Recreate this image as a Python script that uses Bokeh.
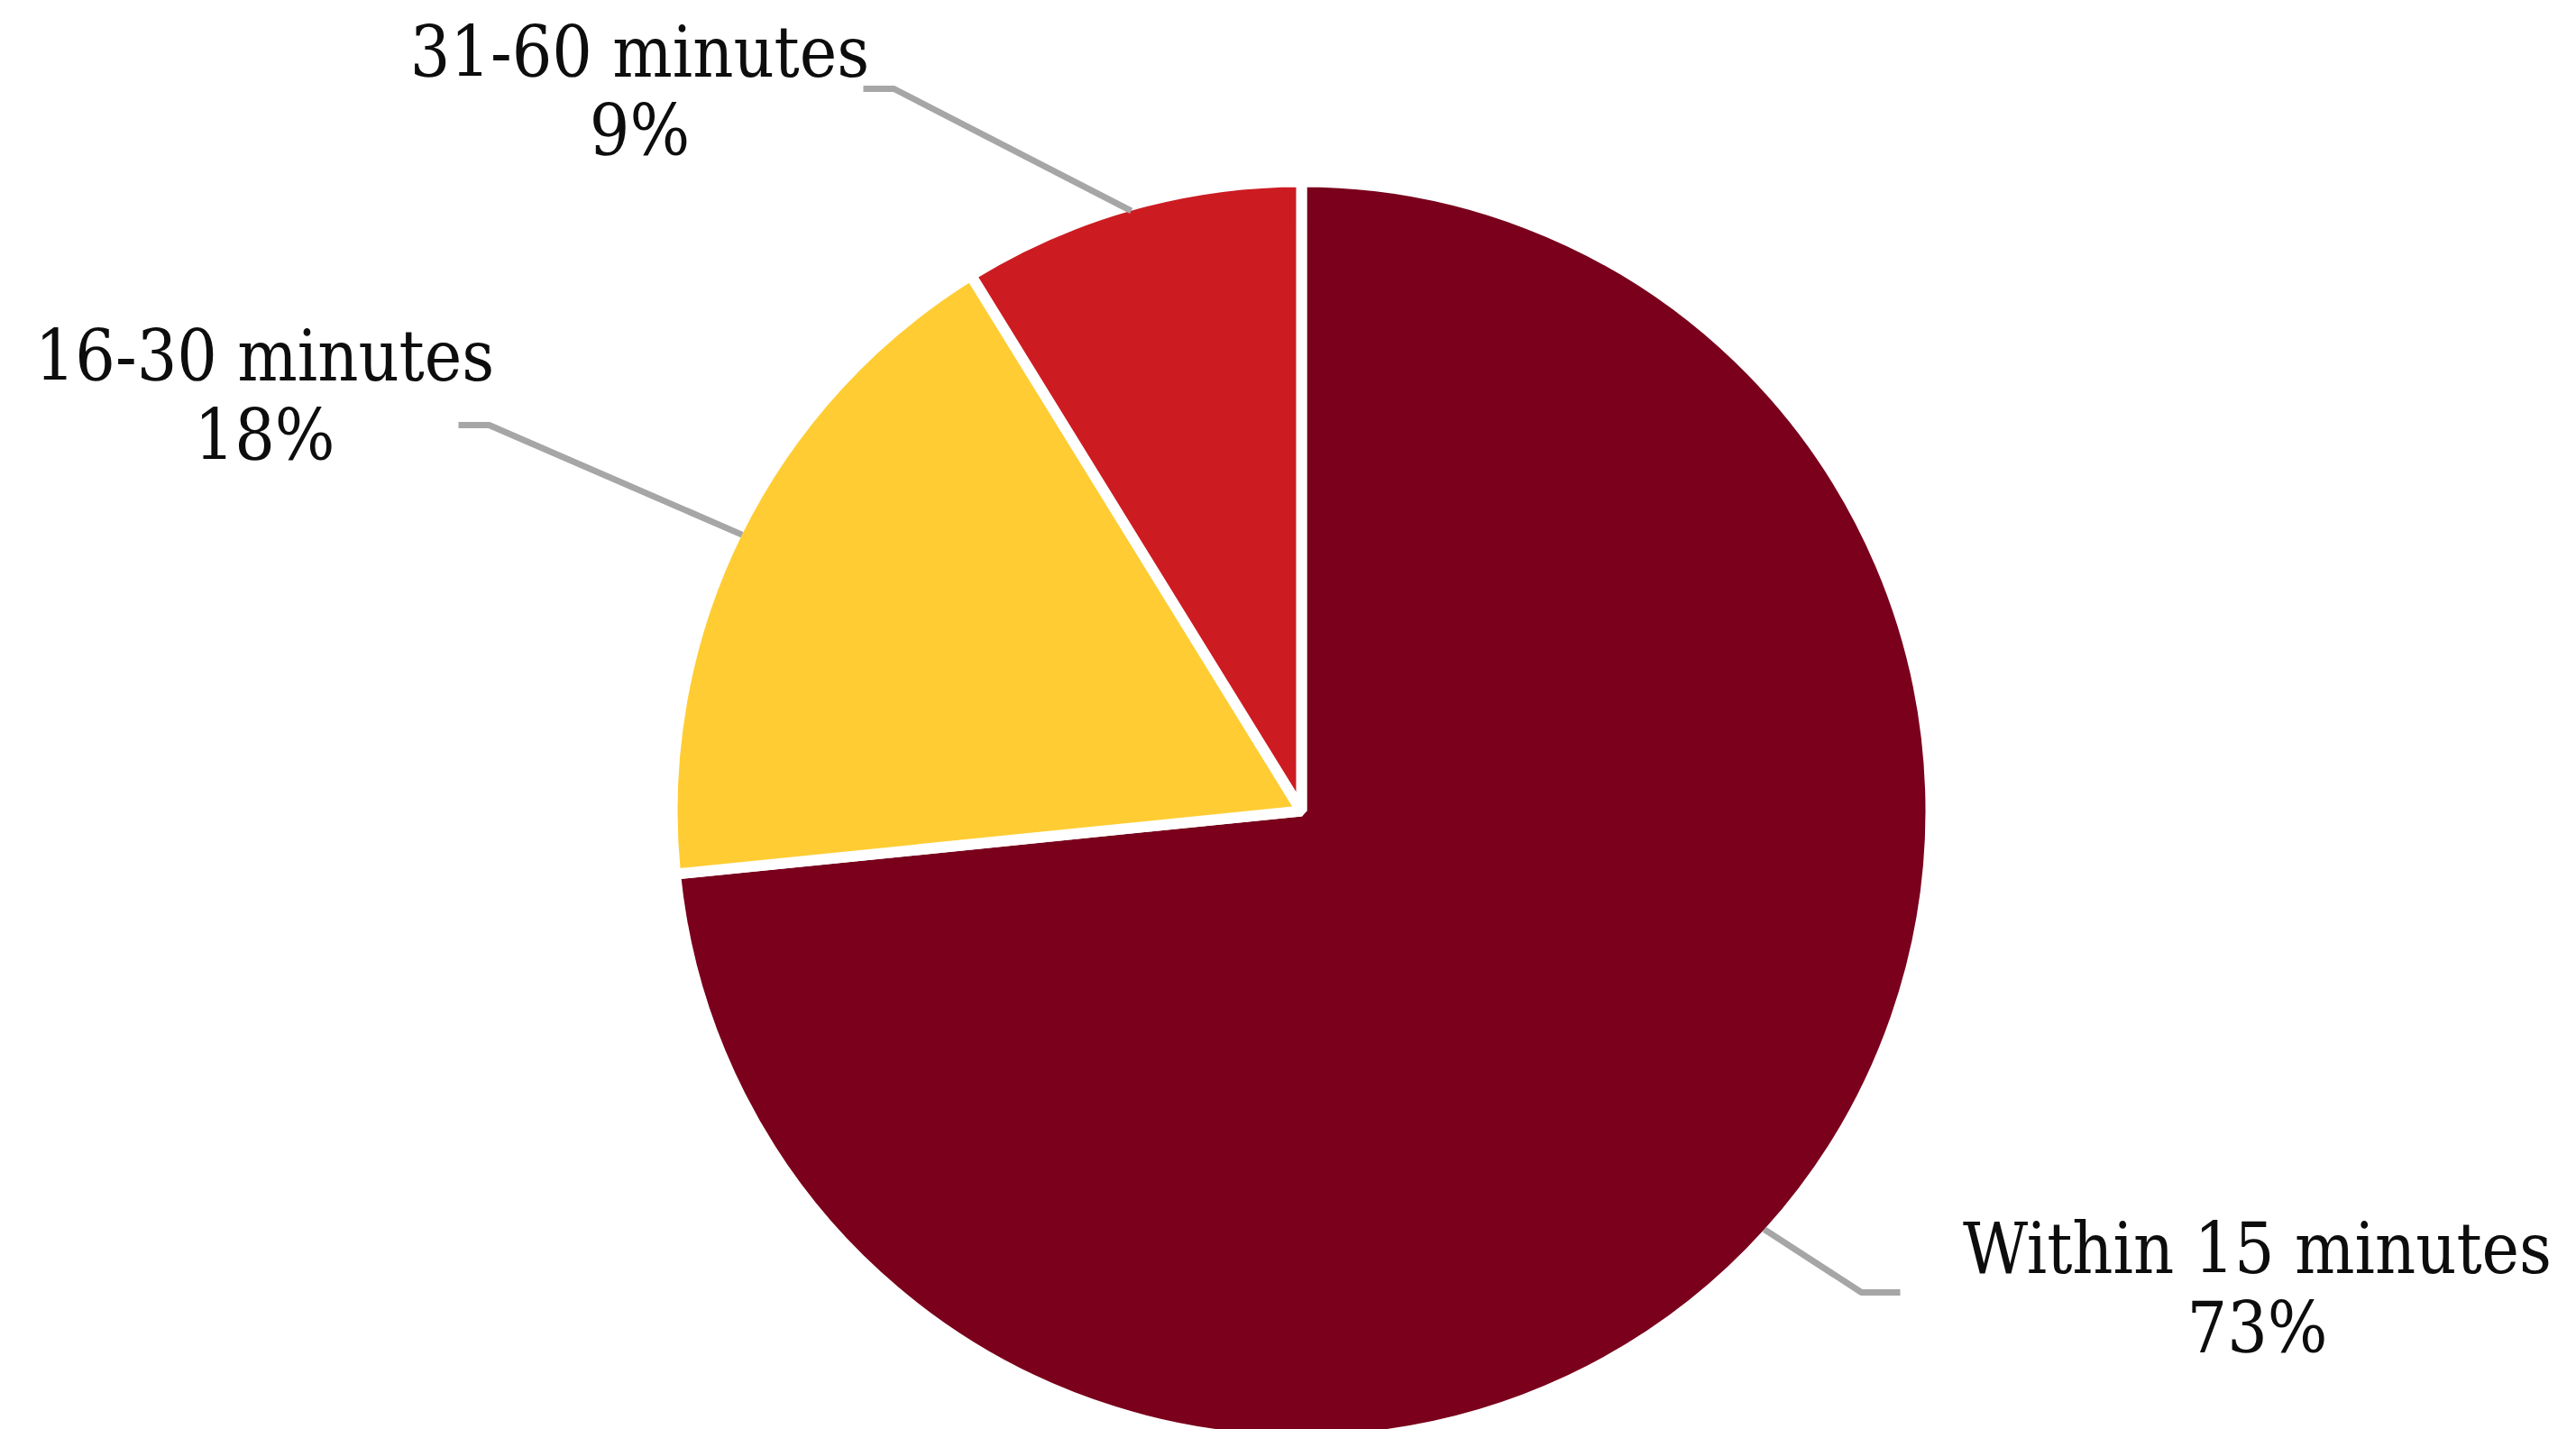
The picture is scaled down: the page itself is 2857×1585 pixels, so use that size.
import math
from bokeh.plotting import figure
from bokeh.models import Range1d, ColumnDataSource
from bokeh.core.properties import value
from bokeh.embed import file_html
from bokeh.resources import INLINE

# ---- data ----
categories = ["Within 15 minutes", "16-30 minutes", "31-60 minutes"]
shares = [73.4, 17.8, 8.8]          # percent of respondents
colors = ["#7A001C", "#FFCD33", "#CC1C22"]

# ---- layout ----
W, H = 2857, 1585
SEP = 12                      # white separator width
CX, CY, R = 1443, H - 899, 698
LEADER_R = R - SEP / 2
TEXT_SHIFT = 29               # renderer baseline correction
# label text centre x, first-line baseline (from top), second-line baseline, leader elbow, leader end
label_layout = {
    "Within 15 minutes": dict(x=2503, y1=1413, y2=1501, elbow=(2064, 1433), end=(2107, 1433)),
    "16-30 minutes": dict(x=293, y1=423, y2=511, elbow=(542, 471), end=(508, 471)),
    "31-60 minutes": dict(x=709, y1=86, y2=173, elbow=(991, 98), end=(957, 98)),
}
FONT = "DejaVu Serif Condensed"
FSIZE = "78px"

p = figure(width=W, height=H, output_backend="svg", toolbar_location=None,
           x_range=Range1d(0, W), y_range=Range1d(0, H), min_border=0)
p.axis.visible = False
p.grid.visible = False
p.outline_line_color = None
p.background_fill_color = "white"
p.border_fill_color = "white"

total = sum(shares)
starts, ends, mids = [], [], []
cum = 0.0
for v in shares:
    a_top = math.pi / 2 - 2 * math.pi * cum / total          # clockwise from 12 o'clock
    a_bot = math.pi / 2 - 2 * math.pi * (cum + v) / total
    starts.append(a_bot)
    ends.append(a_top)
    mids.append((a_top + a_bot) / 2)
    cum += v

src = ColumnDataSource(dict(start=starts, end=ends, color=colors, cat=categories))
p.wedge(x=CX, y=CY, radius=R, start_angle="start", end_angle="end", direction="anticlock",
        fill_color="color", line_color="white", line_width=SEP, source=src)

xs, ys = [], []
tx, ty, tt = [], [], []
for cat, v, mid in zip(categories, shares, mids):
    lay = label_layout[cat]
    px = CX + LEADER_R * math.cos(mid)
    py = CY + LEADER_R * math.sin(mid)
    xs.append([px, lay["elbow"][0], lay["end"][0]])
    ys.append([py, H - lay["elbow"][1], H - lay["end"][1]])
    tx += [lay["x"], lay["x"]]
    ty += [H - lay["y1"] + TEXT_SHIFT, H - lay["y2"] + TEXT_SHIFT]
    tt += [cat, f"{v / total * 100:.0f}%"]

p.multi_line(xs=xs, ys=ys, line_color="#A6A6A6", line_width=7)
p.text(x=tx, y=ty, text=tt, text_font=value(FONT), text_font_size=FSIZE,
       text_align="center", text_baseline="alphabetic", text_color="#0d0d0d")

open("out.html", "w").write(file_html(p, INLINE))
